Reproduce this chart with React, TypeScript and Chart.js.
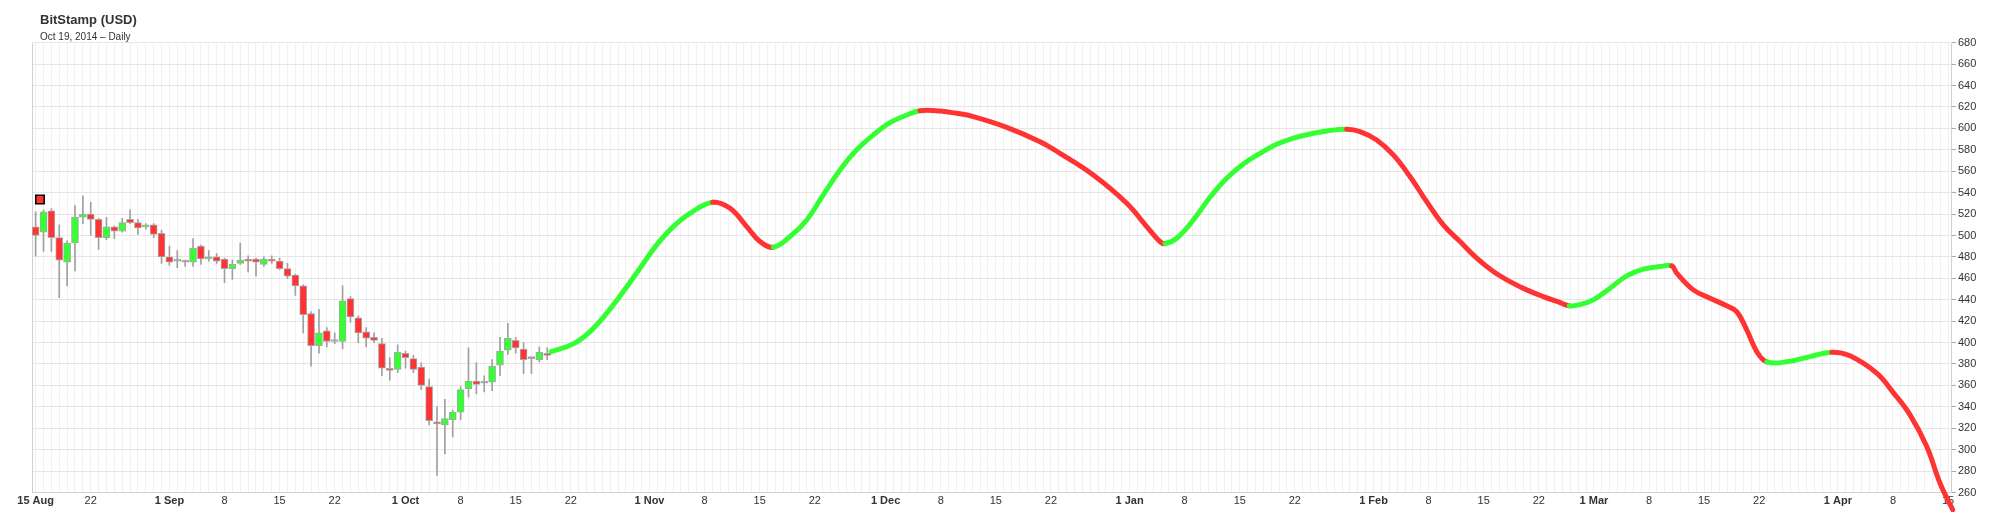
import React, { useEffect, useRef } from 'react';
import { Chart, registerables } from 'chart.js';

Chart.register(...registerables);

// ---------- data ----------
const chartTitle = 'BitStamp (USD)';
const chartSubtitle = 'Oct 19, 2014 \u2013 Daily';

// Daily candles, day 0 = 15 Aug 2014
const candleOpen = [508, 503, 523, 498, 475, 493, 517, 520, 515, 498, 508, 504, 515, 512, 508, 510, 502, 480, 476, 475, 475, 490, 478, 480, 478, 469, 474, 478, 478, 473, 478, 476, 469, 463, 453, 427, 397, 411, 401, 401, 441, 423, 410, 405, 399, 376, 375, 390, 385, 377, 359, 326, 323, 328, 335, 357, 364, 362, 363, 379, 393, 402, 394, 385, 384, 390];
const candleHigh = [522, 524, 525, 510, 495, 528, 537, 531, 516, 517, 509, 516, 524, 515, 511, 511, 505, 490, 486, 477, 497, 491, 486, 483, 479, 477, 493, 481, 479, 480, 481, 479, 474, 464, 454, 429, 431, 414, 409, 453, 443, 425, 414, 409, 404, 386, 398, 392, 388, 381, 366, 340, 347, 337, 359, 395, 381, 369, 384, 405, 418, 405, 400, 386, 396, 395];
const candleLow = [481, 485, 485, 442, 453, 467, 511, 500, 487, 496, 497, 503, 511, 501, 506, 498, 474, 472, 470, 471, 471, 473, 476, 474, 456, 459, 473, 466, 462, 471, 474, 468, 460, 444, 409, 378, 390, 396, 399, 394, 419, 400, 396, 400, 369, 365, 372, 376, 372, 356, 323, 276, 296, 312, 328, 349, 352, 354, 355, 369, 389, 390, 371, 371, 382, 384];
const candleClose = [500, 522, 498, 477, 493, 517, 520, 515, 498, 508, 504, 512, 512, 507, 510, 501, 480, 475, 476, 475, 488, 478, 480, 476, 469, 473, 477, 476, 475, 478, 476, 469, 462, 453, 426, 397, 409, 401, 401, 439, 424, 409, 404, 402, 376, 374, 391, 386, 375, 360, 327, 324, 329, 335, 356, 364, 361, 362, 378, 392, 404, 395, 384, 385, 391, 388];

// Projection curve (days since 15 Aug 2014, price)
const curveDay = [65.5, 68.32, 70.44, 72.56, 74.67, 76.79, 78.92, 81.02, 83.15, 86.03, 88.24, 90.35, 92.04, 93.73, 95.86, 97.98, 100.08, 102.21, 104.33, 106.44, 108.56, 110.68, 112.37, 114.91, 117.03, 119.14, 123.39, 127.62, 130.16, 134.39, 138.64, 141.18, 142.86, 143.5, 144.99, 147.1, 149.22, 151.34, 153.45, 155.57, 157.69, 159.8, 161.92, 164.05, 166.59, 168.28, 170.4, 172.51, 174.63, 176.75, 178.86, 180.99, 183.11, 185.22, 187.34, 189.46, 191.57, 193.7, 194.87, 196.24, 197.93, 200.05, 202.17, 204.28, 206.41, 207.89, 208.52, 210.63, 212.75, 214.87, 216.14, 217.42, 218.69, 219.96, 222.5, 225.46, 228.22, 230.54, 233.93, 236.04, 238.17, 240.29, 241.98, 243.59];
const curveValue = [391.5, 398.8, 410.3, 427.4, 447.6, 469.4, 491.2, 508.3, 520.7, 531.0, 525.4, 508.3, 494.3, 489.0, 499.0, 514.5, 537.9, 561.2, 580.0, 593.9, 605.3, 612.5, 616.5, 616.2, 614.1, 611.0, 601.0, 587.6, 576.7, 556.5, 530.1, 508.3, 494.3, 492.4, 497.4, 514.5, 535.7, 553.4, 566.8, 576.7, 585.2, 590.8, 594.8, 597.6, 599.2, 597.0, 589.2, 575.2, 555.0, 531.6, 509.9, 494.3, 478.8, 466.3, 456.9, 449.2, 442.9, 437.3, 434.3, 435.5, 439.9, 450.8, 462.3, 468.5, 471.0, 471.6, 464.8, 449.2, 441.4, 434.3, 428.9, 411.8, 391.6, 382.0, 382.0, 386.9, 391.0, 387.6, 371.4, 353.3, 332.5, 302.9, 268.7, 243.9];

// Marker square
const markerDay = [0.55];
const markerValue = [533.5];

// X tick labels
const tickDays = [0, 7, 17, 24, 31, 38, 47, 54, 61, 68, 78, 85, 92, 99, 108, 115, 122, 129, 139, 146, 153, 160, 170, 177, 184, 191, 198, 205, 212, 219, 229, 236, 243];
const tickLabels = ['15 Aug', '22', '1 Sep', '8', '15', '22', '1 Oct', '8', '15', '22', '1 Nov', '8', '15', '22', '1 Dec', '8', '15', '22', '1 Jan', '8', '15', '22', '1 Feb', '8', '15', '22', '1 Mar', '8', '15', '22', '1 Apr', '8', '15'];
const monthTickDays = [0, 17, 47, 78, 108, 139, 170, 198, 229];

const xMin = -0.5;
const xMax = 243.5;
const yMin = 260;
const yMax = 680;
const yStep = 20;

// ---------- styles ----------
const FONT = '"Liberation Sans", Arial, Helvetica, sans-serif';
const GREEN = '#33ff33';
const RED = '#ff3333';
const DOJI = '#999999';
const TEXT = '#333333';

const framePlugin = {
  id: 'frameAndTitle',
  beforeDatasetsDraw(chart: any) {
    const { ctx, chartArea: a } = chart;
    ctx.save();
    ctx.strokeStyle = '#cfcfcf';
    ctx.lineWidth = 1;
    const l = Math.round(a.left) + 0.5;
    const t = Math.round(a.top) + 0.5;
    const r = Math.round(a.right) - 0.5;
    const b = Math.round(a.bottom) - 0.5;
    ctx.beginPath();
    ctx.moveTo(l, t);
    ctx.lineTo(l, b);
    ctx.lineTo(r, b);
    ctx.lineTo(r, t);
    ctx.stroke();
    ctx.restore();
  },
  afterDraw(chart: any) {
    const { ctx } = chart;
    ctx.save();
    ctx.fillStyle = TEXT;
    ctx.textBaseline = 'alphabetic';
    ctx.textAlign = 'left';
    ctx.font = `bold 13px ${FONT}`;
    ctx.fillText(chartTitle, 40, 23.5);
    ctx.font = `10px ${FONT}`;
    ctx.fillText(chartSubtitle, 40, 39.5);
    ctx.restore();
  },
};

export default function App() {
  const canvasRef = useRef<HTMLCanvasElement | null>(null);

  useEffect(() => {
    if (!canvasRef.current) return;
    Chart.defaults.font.family = FONT;

    const bodyColors = candleOpen.map((o, i) =>
      candleClose[i] > o ? GREEN : candleClose[i] < o ? RED : DOJI
    );
    const gridDays: number[] = [];
    for (let d = 0; d <= 243; d++) gridDays.push(d);
    const labelMap = new Map<number, string>();
    tickDays.forEach((d, i) => labelMap.set(d, tickLabels[i]));
    const monthSet = new Set(monthTickDays);

    const chart = new Chart(canvasRef.current, {
      type: 'bar',
      data: {
        datasets: [
          {
            type: 'line',
            label: 'Projection',
            data: curveDay.map((d, i) => ({ x: d, y: curveValue[i] })),
            borderColor: GREEN,
            borderWidth: 5,
            pointRadius: 0,
            pointHoverRadius: 0,
            tension: 0.4,
            borderCapStyle: 'round',
            borderJoinStyle: 'round',
            clip: false,
            order: 0,
            segment: {
              borderColor: (c: any) => (c.p1.parsed.y >= c.p0.parsed.y ? GREEN : RED),
            },
          } as any,
          {
            type: 'scatter',
            label: 'Marker',
            data: markerDay.map((d, i) => ({ x: d, y: markerValue[i] })),
            pointStyle: 'rect',
            pointRadius: 6,
            backgroundColor: RED,
            borderColor: '#000000',
            borderWidth: 1.5,
            order: 0,
          } as any,
          {
            type: 'bar',
            label: 'Body',
            data: candleOpen.map((o, i) => ({ x: i, y: [o, candleClose[i]] })),
            backgroundColor: bodyColors,
            borderColor: '#a8a8a8',
            borderWidth: 1,
            borderSkipped: false,
            barThickness: 7,
            grouped: false,
            minBarLength: 2,
            order: 1,
          } as any,
          {
            type: 'bar',
            label: 'Wick',
            data: candleLow.map((l, i) => ({ x: i, y: [l, candleHigh[i]] })),
            backgroundColor: '#a0a0a0',
            borderWidth: 0,
            barThickness: 1,
            grouped: false,
            order: 2,
          } as any,
        ],
      },
      options: {
        responsive: false,
        animation: false,
        devicePixelRatio: 1,
        layout: { padding: { left: 31.7, top: 42.7, right: 0, bottom: 0 } },
        plugins: {
          legend: { display: false },
          tooltip: { enabled: false },
          title: { display: false },
        },
        scales: {
          x: {
            type: 'linear',
            min: xMin,
            max: xMax,
            offset: false,
            afterBuildTicks: (axis: any) => {
              axis.ticks = gridDays.map((v) => ({ value: v }));
            },
            afterFit: (s: any) => {
              s.height = 19.5;
            },
            grid: { color: '#f0f0f0', drawTicks: false, offset: false, lineWidth: 1 },
            border: { display: false },
            ticks: {
              autoSkip: false,
              maxRotation: 0,
              minRotation: 0,
              padding: 2,
              color: TEXT,
              font: (ctx: any) => ({
                family: FONT,
                size: 11,
                weight: ctx.tick && monthSet.has(ctx.tick.value) ? 'bold' : 'normal',
              }),
              callback: (v: any) => labelMap.get(Number(v)) ?? '',
            },
          } as any,
          y: {
            type: 'linear',
            position: 'right',
            min: yMin,
            max: yMax,
            afterFit: (s: any) => {
              s.width = 52;
            },
            grid: { color: '#e6e6e6', tickLength: 4, tickColor: '#aaaaaa', drawTicks: true },
            border: { display: false },
            ticks: {
              stepSize: yStep,
              padding: 2,
              color: TEXT,
              font: { family: FONT, size: 11 },
            },
          } as any,
        },
      },
      plugins: [framePlugin],
    });

    return () => {
      chart.destroy();
    };
  }, []);

  return (
    <div style={{ position: 'fixed', left: 0, top: 0, width: 2004, height: 512, background: '#ffffff' }}>
      <canvas ref={canvasRef} width={2004} height={512} style={{ width: 2004, height: 512, display: 'block' }} />
    </div>
  );
}
